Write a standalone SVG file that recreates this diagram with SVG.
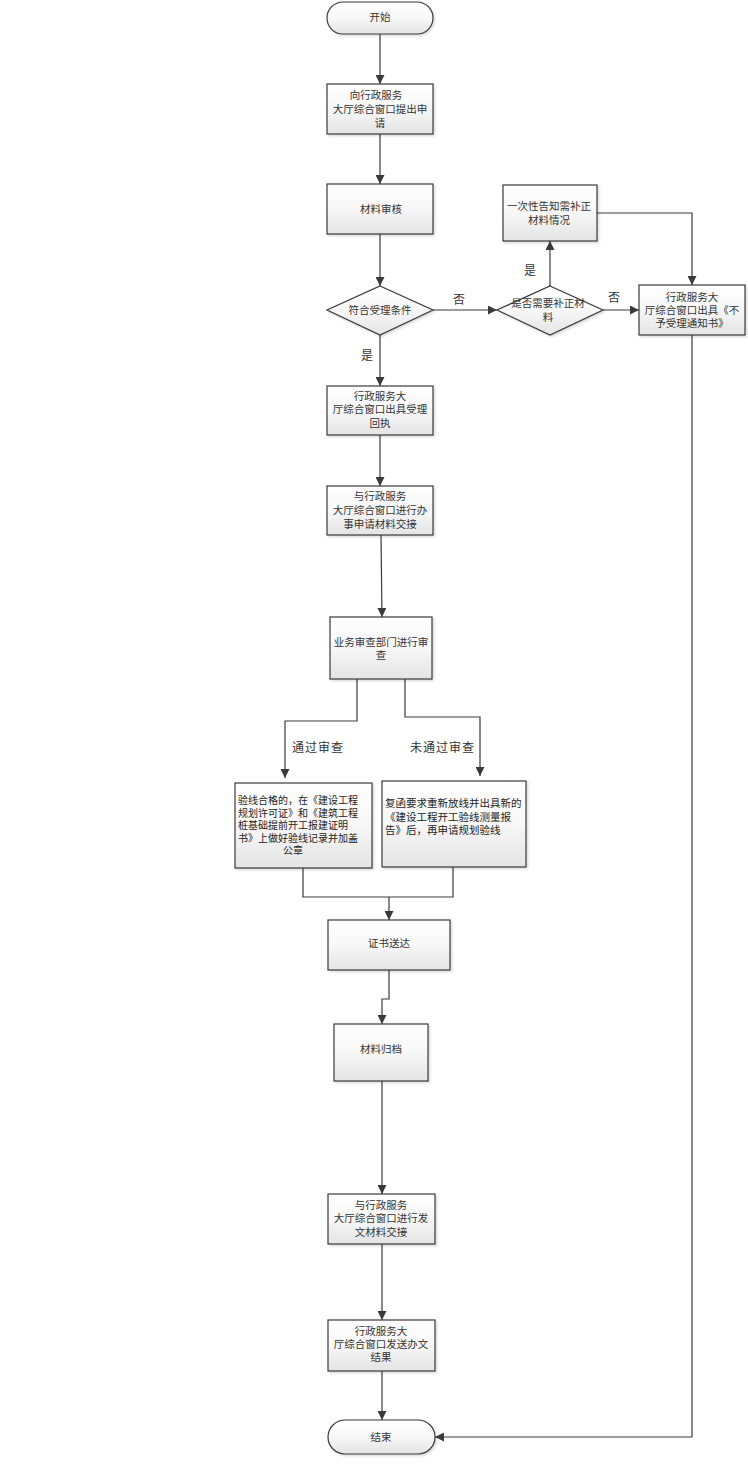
<svg xmlns="http://www.w3.org/2000/svg" width="748" height="1464" viewBox="0 0 748 1464">
<style>
.n{fill:url(#g);stroke:#3a3a3a;stroke-width:1.2;filter:url(#sh)}
.t{font-family:"Noto Sans CJK SC","Liberation Sans",sans-serif;font-size:10.5px;fill:#333;text-anchor:middle}
.ts{font-family:"Noto Sans CJK SC","Liberation Sans",sans-serif;font-size:10.5px;fill:#222;text-anchor:start}
.tp{font-family:"Noto Sans CJK SC","Liberation Sans",sans-serif;font-size:10px;fill:#222;text-anchor:start}
.l{font-family:"Noto Sans CJK SC","Liberation Sans",sans-serif;font-size:12px;fill:#333;text-anchor:middle}
.lb{font-family:"Noto Sans CJK SC","Liberation Sans",sans-serif;font-size:12px;fill:#333;letter-spacing:1px}
.c{fill:none;stroke:#3a3a3a;stroke-width:1.2}
</style>
<defs>
<linearGradient id="g" x1="0" y1="0" x2="0" y2="1">
<stop offset="0" stop-color="#ffffff"/>
<stop offset="0.5" stop-color="#f7f7f7"/>
<stop offset="1" stop-color="#e4e4e4"/>
</linearGradient>
<filter id="sh" x="-10%" y="-10%" width="130%" height="130%">
<feDropShadow dx="1.5" dy="1.5" stdDeviation="1" flood-color="#000" flood-opacity="0.15"/>
</filter>
<marker id="a" viewBox="0 0 10 10" refX="10" refY="5" markerWidth="9" markerHeight="9" markerUnits="userSpaceOnUse" orient="auto">
<path d="M0,0 L10,5 L0,10 z" fill="#3a3a3a"/>
</marker>
</defs>

<g id="connectors">
<path class="c" d="M380,34 V84" marker-end="url(#a)"/>
<path class="c" d="M380,134 V184" marker-end="url(#a)"/>
<path class="c" d="M380,234 V286" marker-end="url(#a)"/>
<path class="c" d="M433,310 H497" marker-end="url(#a)"/>
<path class="c" d="M550,286 V241" marker-end="url(#a)"/>
<path class="c" d="M597,213 H692 V285" marker-end="url(#a)"/>
<path class="c" d="M603,310 H639" marker-end="url(#a)"/>
<path class="c" d="M380,335 V386" marker-end="url(#a)"/>
<path class="c" d="M380,435 V486" marker-end="url(#a)"/>
<path class="c" d="M381,535 L382,617" marker-end="url(#a)"/>
<path class="c" d="M357,679 V721 H285 V778" marker-end="url(#a)"/>
<path class="c" d="M405,679 V717 H480 V776" marker-end="url(#a)"/>
<path class="c" d="M303,868 V897 H453 V867"/>
<path class="c" d="M389,897 V920" marker-end="url(#a)"/>
<path class="c" d="M389,970 V999 H382 V1024" marker-end="url(#a)"/>
<path class="c" d="M382,1081 V1194" marker-end="url(#a)"/>
<path class="c" d="M382,1244 V1320" marker-end="url(#a)"/>
<path class="c" d="M382,1371 V1420" marker-end="url(#a)"/>
<path class="c" d="M692,335 V1437 H435" marker-end="url(#a)"/>
<text class="l" x="459" y="304">否</text>
<text class="l" x="614" y="302">否</text>
<text class="l" x="530" y="275">是</text>
<text class="l" x="367" y="360">是</text>
<text class="lb" x="292" y="752">通过审查</text>
<text class="lb" x="410" y="752">未通过审查</text>
</g>

<g id="start">
<rect class="n" x="327" y="2" width="106" height="32" rx="16"/>
<text class="t" x="380" y="21">开始</text>
</g>
<g id="apply">
<rect class="n" x="327" y="84" width="106" height="50"/>
<text class="t" x="376" y="99">向行政服务</text>
<text class="t" x="380" y="113">大厅综合窗口提出申</text>
<text class="t" x="380" y="127">请</text>
</g>
<g id="review">
<rect class="n" x="327" y="184" width="106" height="50"/>
<text class="t" x="381" y="213">材料审核</text>
</g>
<g id="check">
<polygon class="n" points="380,286 433,310 380,335 327,310"/>
<text class="t" x="380" y="314">符合受理条件</text>
</g>
<g id="needfix">
<polygon class="n" points="550,286 603,310 550,335 497,310"/>
<text class="t" x="548" y="307">是否需要补正材</text>
<text class="t" x="548" y="321">料</text>
</g>
<g id="notify">
<rect class="n" x="503" y="185" width="94" height="56"/>
<text class="t" x="549" y="210">一次性告知需补正</text>
<text class="t" x="549" y="224">材料情况</text>
</g>
<g id="reject">
<rect class="n" x="639" y="285" width="106" height="50"/>
<text class="t" x="692" y="301">行政服务大</text>
<text class="t" x="692" y="314">厅综合窗口出具《不</text>
<text class="t" x="692" y="327">予受理通知书》</text>
</g>
<g id="receipt">
<rect class="n" x="327" y="386" width="106" height="49"/>
<text class="t" x="380" y="400">行政服务大</text>
<text class="t" x="380" y="413">厅综合窗口出具受理</text>
<text class="t" x="380" y="427">回执</text>
</g>
<g id="handover">
<rect class="n" x="327" y="486" width="106" height="49"/>
<text class="t" x="380" y="500">与行政服务</text>
<text class="t" x="380" y="514">大厅综合窗口进行办</text>
<text class="t" x="380" y="528">事申请材料交接</text>
</g>
<g id="dept">
<rect class="n" x="330" y="617" width="102" height="62"/>
<text class="t" x="381" y="646">业务审查部门进行审</text>
<text class="t" x="381" y="659">查</text>
</g>
<g id="pass">
<rect class="n" x="235" y="783" width="137" height="85"/>
<text class="tp" x="238" y="804">验线合格的，在《建设工程</text>
<text class="tp" x="238" y="816.5">规划许可证》和《建筑工程</text>
<text class="tp" x="238" y="829">桩基础提前开工报建证明</text>
<text class="tp" x="238" y="841.5">书》上做好验线记录并加盖</text>
<text class="tp" x="283" y="854">公章</text>
</g>
<g id="fail">
<rect class="n" x="382" y="781" width="144" height="86"/>
<text class="ts" x="385" y="807">复函要求重新放线并出具新的</text>
<text class="ts" x="385" y="820.5">《建设工程开工验线测量报</text>
<text class="ts" x="385" y="834">告》后，再申请规划验线</text>
</g>
<g id="deliver">
<rect class="n" x="328" y="920" width="122" height="50"/>
<text class="t" x="389" y="947">证书送达</text>
</g>
<g id="archive">
<rect class="n" x="334" y="1024" width="94" height="57"/>
<text class="t" x="381" y="1053">材料归档</text>
</g>
<g id="handover2">
<rect class="n" x="328" y="1194" width="107" height="50"/>
<text class="t" x="381" y="1209">与行政服务</text>
<text class="t" x="381" y="1222">大厅综合窗口进行发</text>
<text class="t" x="381" y="1236">文材料交接</text>
</g>
<g id="result">
<rect class="n" x="328" y="1320" width="107" height="51"/>
<text class="t" x="381" y="1335">行政服务大</text>
<text class="t" x="381" y="1348">厅综合窗口发送办文</text>
<text class="t" x="381" y="1361">结果</text>
</g>
<g id="end">
<rect class="n" x="328" y="1420" width="107" height="34" rx="17"/>
<text class="t" x="381" y="1441">结束</text>
</g>
</svg>
